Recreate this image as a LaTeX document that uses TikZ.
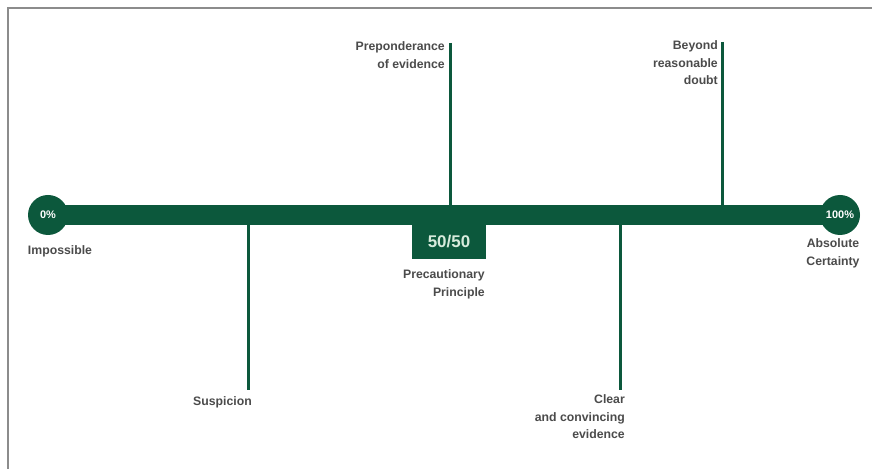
\documentclass[tikz,border=0pt]{standalone}
\usepackage{fontspec}
\setmainfont{Liberation Sans}
\definecolor{dgreen}{RGB}{12,88,60}
\definecolor{lbl}{RGB}{75,75,75}
\definecolor{frame}{RGB}{140,140,140}
\begin{document}
\begin{tikzpicture}[x=1bp,y=-1bp,
  lbltext/.style={text=lbl,font=\fontsize{12.3}{18}\selectfont\bfseries,inner sep=0pt,align=right},
  tick/.style={draw=dgreen,line width=3bp},
  endcirc/.style={circle,fill=dgreen,minimum size=40bp,inner sep=0pt,text=white,font=\fontsize{11}{12}\selectfont\bfseries}]
\useasboundingbox (0,0) rectangle (872,469);
\fill[white] (0,0) rectangle (872,469);
\draw[frame,line width=2bp] (8,469) -- (8,8) -- (872,8);
% bar
\fill[dgreen] (48,205) rectangle (840,225);
\node[endcirc] (c0) at (48,215) {0\%};
\node[endcirc] (c100) at (840,215) {100\%};
% box
\node[fill=dgreen,minimum width=74bp,minimum height=35bp,inner sep=0pt,text={rgb,255:red,215;green,235;blue,220},font=\fontsize{17}{20}\selectfont\bfseries] (box) at (449,242) {50/50};
% ticks
\coordinate (sA) at (248,225); \coordinate (sB) at (248,390);
\coordinate (pA) at (450,43);  \coordinate (pB) at (450,205);
\coordinate (cA) at (620,225); \coordinate (cB) at (620,390);
\coordinate (bA) at (722,42);  \coordinate (bB) at (722,205);
\draw[tick] (sA) -- (sB);
\draw[tick] (pA) -- (pB);
\draw[tick] (cA) -- (cB);
\draw[tick] (bA) -- (bB);
% labels
\node[lbltext,anchor=north] (imp) at (60,245) {Impossible};
\node[lbltext,anchor=north,align=center] (abs) at (833,238) {Absolute\\Certainty};
\node[lbltext,anchor=north east] (sus) at (252,396) {Suspicion};
\node[lbltext,anchor=north east] (pre) at (445,41) {Preponderance\\of evidence};
\node[lbltext,anchor=north east] (bey) at (718,40) {Beyond\\reasonable\\doubt};
\node[lbltext,anchor=north east] (prec) at (485,269) {Precautionary\\Principle};
\node[lbltext,anchor=north east] (clr) at (625,394) {Clear\\and convincing\\evidence};
\end{tikzpicture}
\end{document}
